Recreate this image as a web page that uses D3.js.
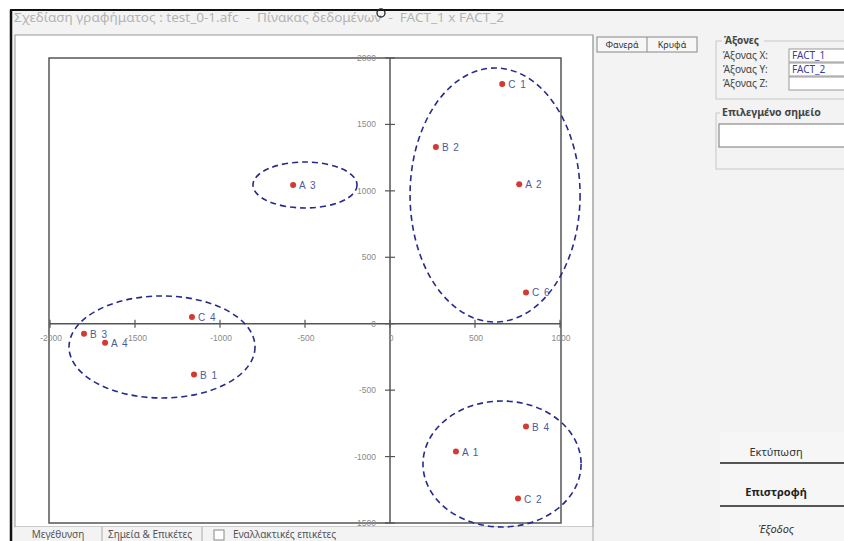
<!DOCTYPE html>
<html>
<head>
<meta charset="utf-8">
<script src="https://cdn.jsdelivr.net/npm/d3@7"></script>
<style>
  body { margin: 0; background: #ffffff; }
  svg { display: block; }
  .ui { font-family: "Noto Sans", "Open Sans", sans-serif; }
  .tick-label { font-family: "Liberation Sans", Arial, sans-serif; font-size: 8.5px; fill: #8a8a8a; }
  .pt-label { font-family: "Liberation Sans", Arial, sans-serif; font-size: 10px; fill: #4b5a9a; letter-spacing: 1px; }
</style>
</head>
<body>
<svg id="chart" width="844" height="541"></svg>
<script>
// ---- data ----
const pointLabels = ["C 1", "B 2", "A 2", "C 6", "A 3", "C 4", "B 3", "A 4", "B 1", "A 1", "B 4", "C 2"];
const fact1 = [660, 270, 760, 800, -570, -1165, -1800, -1676, -1153, 388, 800, 753];
const fact2 = [1805, 1330, 1050, 235, 1045, 50, -75, -143, -383, -962, -774, -1316];

const xTicks = [-2000, -1500, -1000, -500, 0, 500, 1000];
const yTicks = [2000, 1500, 1000, 500, 0, -500, -1000, -1500];

// cluster ellipses (data units)
const ellipseCx = [618, -500, -1341, 659];
const ellipseCy = [969, 1044, -175, -1056];
const ellipseRx = [500, 306, 547, 465];
const ellipseRy = [956, 173, 384, 474];

const titleText = "Σχεδίαση γραφήματος : test_0-1.afc  -  Πίνακας δεδομένων  -  FACT_1 x FACT_2";

// ---- layout ----
const svg = d3.select("#chart");
const W = 844, H = 541;
const plot = { left: 50, right: 560, top: 58, bottom: 523 };

const x = d3.scaleLinear().domain([-2000, 1000]).range([plot.left, plot.right]);
const y = d3.scaleLinear().domain([-1500, 2000]).range([plot.bottom, plot.top]);

// window chrome
svg.append("rect").attr("x", 0).attr("y", 0).attr("width", W).attr("height", H).attr("fill", "#ffffff");
svg.append("rect").attr("x", 11).attr("y", 10).attr("width", W - 11).attr("height", H - 10).attr("fill", "#f3f3f3");
svg.append("line").attr("x1", 10).attr("x2", W).attr("y1", 10).attr("y2", 10).attr("stroke", "#111").attr("stroke-width", 2);
svg.append("line").attr("x1", 11).attr("x2", 11).attr("y1", 10).attr("y2", H).attr("stroke", "#111").attr("stroke-width", 2.5);
svg.append("text").attr("class", "ui").attr("x", 14).attr("y", 22)
  .attr("font-size", 12.5).attr("fill", "#b3b3b3")
  .attr("textLength", 490).attr("lengthAdjust", "spacingAndGlyphs")
  .style("white-space", "pre").text(titleText);
// cursor mark
svg.append("circle").attr("cx", 381).attr("cy", 13).attr("r", 4).attr("fill", "none").attr("stroke", "#222").attr("stroke-width", 1.3);

// white plot panel
svg.append("rect").attr("x", 15).attr("y", 35).attr("width", 578).attr("height", 492)
  .attr("fill", "#ffffff").attr("stroke", "#a8a8a8").attr("stroke-width", 1.2);

// bottom tabs
const bt = svg.append("g").attr("class", "ui").attr("font-size", 10).attr("fill", "#555");
bt.append("rect").attr("x", 15).attr("y", 527).attr("width", 578).attr("height", 14).attr("fill", "#f3f3f3");
bt.append("text").attr("x", 58).attr("y", 538).attr("text-anchor", "middle").text("Μεγέθυνση");
bt.append("line").attr("x1", 102).attr("x2", 102).attr("y1", 527).attr("y2", 541).attr("stroke", "#aaa");
bt.append("text").attr("x", 150).attr("y", 538).attr("text-anchor", "middle").text("Σημεία & Επικέτες");
bt.append("line").attr("x1", 202).attr("x2", 202).attr("y1", 527).attr("y2", 541).attr("stroke", "#aaa");
bt.append("rect").attr("x", 214).attr("y", 530).attr("width", 10).attr("height", 10).attr("fill", "#fff").attr("stroke", "#888");
bt.append("text").attr("x", 233).attr("y", 538).text("Εναλλακτικές επικέτες");

// right panel
svg.append("line").attr("x1", 593).attr("x2", 593).attr("y1", 35).attr("y2", H).attr("stroke", "#a8a8a8");
const tabs = svg.append("g").attr("class", "ui").attr("font-size", 9).attr("fill", "#333");
tabs.append("rect").attr("x", 597).attr("y", 37).attr("width", 100).attr("height", 15).attr("fill", "#f7f7f7").attr("stroke", "#888");
tabs.append("line").attr("x1", 647).attr("x2", 647).attr("y1", 37).attr("y2", 52).attr("stroke", "#888");
tabs.append("text").attr("x", 622).attr("y", 48).attr("text-anchor", "middle").text("Φανερά");
tabs.append("text").attr("x", 672).attr("y", 48).attr("text-anchor", "middle").text("Κρυφά");

const rp = svg.append("g").attr("class", "ui").attr("font-size", 10).attr("fill", "#444");
// group Άξονες
rp.append("rect").attr("x", 716).attr("y", 41).attr("width", 140).attr("height", 58).attr("fill", "none").attr("stroke", "#c8c8c8");
rp.append("rect").attr("x", 722).attr("y", 34).attr("width", 42).attr("height", 11).attr("fill", "#f3f3f3");
rp.append("text").attr("x", 724).attr("y", 44).attr("font-weight", "bold").attr("fill", "#444").text("Άξονες");
const axRows = [["Άξονας X:", "FACT_1", 59], ["Άξονας Y:", "FACT_2", 73], ["Άξονας Z:", "", 87]];
axRows.forEach(r => {
  rp.append("text").attr("x", 723).attr("y", r[2]).text(r[0]);
  rp.append("rect").attr("x", 789).attr("y", r[2] - 10).attr("width", 62).attr("height", 13).attr("fill", "#fff").attr("stroke", "#999");
  rp.append("text").attr("x", 792).attr("y", r[2]).attr("fill", "#3c3c9a").text(r[1]);
});
// group Επιλεγμένο σημείο
rp.append("rect").attr("x", 716).attr("y", 113).attr("width", 140).attr("height", 56).attr("fill", "none").attr("stroke", "#c8c8c8");
rp.append("rect").attr("x", 720).attr("y", 105).attr("width", 124).attr("height", 13).attr("fill", "#f3f3f3");
rp.append("text").attr("x", 722).attr("y", 116).attr("font-weight", "bold").attr("font-size", 10.5).text("Επιλεγμένο σημείο");
rp.append("rect").attr("x", 719).attr("y", 124).attr("width", 130).attr("height", 23).attr("fill", "#fff").attr("stroke", "#777");

// bottom-right buttons
const btn = svg.append("g").attr("class", "ui").attr("font-size", 11).attr("fill", "#333");
btn.append("rect").attr("x", 720).attr("y", 432).attr("width", 130).attr("height", 110).attr("fill", "#f6f6f6");
btn.append("line").attr("x1", 720).attr("x2", W).attr("y1", 463).attr("y2", 463).attr("stroke", "#555").attr("stroke-width", 2);
btn.append("line").attr("x1", 720).attr("x2", W).attr("y1", 506).attr("y2", 506).attr("stroke", "#555").attr("stroke-width", 2);
btn.append("text").attr("x", 776).attr("y", 456).attr("text-anchor", "middle").text("Εκτύπωση");
btn.append("text").attr("x", 776).attr("y", 496).attr("text-anchor", "middle").attr("font-weight", "bold").attr("fill", "#222").text("Επιστροφή");
btn.append("text").attr("x", 776).attr("y", 533).attr("text-anchor", "middle").attr("font-style", "italic").text("Έξοδος");

// ---- chart ----
const g = svg.append("g");
g.append("rect").attr("x", plot.left - 1).attr("y", plot.top).attr("width", plot.right - plot.left + 2).attr("height", plot.bottom - plot.top)
  .attr("fill", "#fff").attr("stroke", "#555").attr("stroke-width", 1.5);

// zero axes
g.append("line").attr("x1", x(-2000) - 1).attr("x2", x(1000) + 1).attr("y1", y(0)).attr("y2", y(0)).attr("stroke", "#555").attr("stroke-width", 1.5);
g.append("line").attr("x1", x(0)).attr("x2", x(0)).attr("y1", y(2000)).attr("y2", y(-1500)).attr("stroke", "#555").attr("stroke-width", 1.5);

// x ticks on the zero line
g.selectAll(".xt").data(xTicks).join("line")
  .attr("x1", d => x(d)).attr("x2", d => x(d)).attr("y1", y(0) - 4).attr("y2", y(0) + 4)
  .attr("stroke", "#555").attr("stroke-width", 1.2);
g.selectAll(".xl").data(xTicks).join("text").attr("class", "tick-label")
  .attr("x", d => x(d) + 1).attr("y", y(0) + 17).attr("text-anchor", "middle").text(d => d);

// y ticks on the zero line
g.selectAll(".yt").data(yTicks).join("line")
  .attr("x1", x(0) - 5).attr("x2", x(0) + 5).attr("y1", d => y(d)).attr("y2", d => y(d))
  .attr("stroke", "#555").attr("stroke-width", 1.2);
g.selectAll(".yl").data(yTicks).join("text").attr("class", "tick-label")
  .attr("x", x(0) - 14).attr("y", d => y(d) + 3).attr("text-anchor", "end").text(d => d);

// ellipses
const ell = d3.range(ellipseCx.length);
g.selectAll(".ell").data(ell).join("ellipse")
  .attr("cx", i => x(ellipseCx[i]))
  .attr("cy", i => y(ellipseCy[i]))
  .attr("rx", i => x(ellipseRx[i]) - x(0))
  .attr("ry", i => y(0) - y(ellipseRy[i]))
  .attr("fill", "none").attr("stroke", "#262a8c").attr("stroke-width", 1.6).attr("stroke-dasharray", "6,4");

// points
const pts = d3.range(pointLabels.length);
g.selectAll(".pt").data(pts).join("circle")
  .attr("cx", i => x(fact1[i])).attr("cy", i => y(fact2[i])).attr("r", 3)
  .attr("fill", "#d33a32");
g.selectAll(".pl").data(pts).join("text").attr("class", "pt-label")
  .attr("x", i => x(fact1[i]) + 6).attr("y", i => y(fact2[i]) + 4)
  .text(i => pointLabels[i]);
</script>
</body>
</html>
